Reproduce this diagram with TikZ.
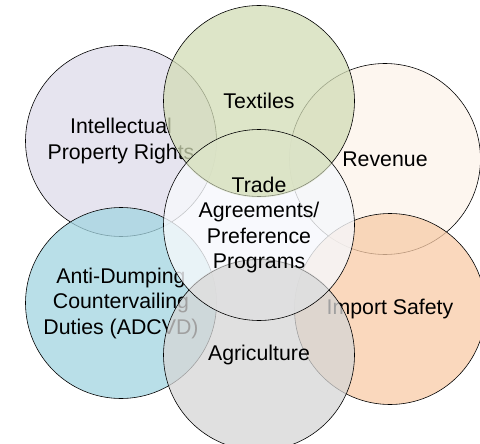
\documentclass[tikz,border=0pt]{standalone}
\usepackage{fontspec}
\setmainfont{Liberation Sans}
\usepackage{xcolor}
\usepackage{tikz}

\definecolor{lavend}{RGB}{222,219,234}
\definecolor{sage}{RGB}{210,220,182}
\definecolor{sagelight}{RGB}{221,229,200}
\definecolor{cream}{RGB}{252,243,234}
\definecolor{skyblue}{RGB}{162,212,224}
\definecolor{apricot}{RGB}{248,203,167}
\definecolor{ash}{RGB}{214,214,214}
\definecolor{ashlight}{RGB}{224,224,224}
\definecolor{mist}{RGB}{246,248,252}

\begin{document}
\begin{tikzpicture}[x=1pt, y=-1pt, every node/.style={circle, draw, line width=0.6pt,
        inner sep=0pt, minimum size=191pt, align=center, fill opacity=0.75,
        text opacity=1, font=\fontsize{21.3}{25.5}\selectfont}]
        \clip (0,0) rectangle (480,444);
        \node[fill=lavend] (A) at (121,141) {Intellectual\\Property Rights};
        \node[fill=cream] (C) at (385,159) {Revenue};
        \node[fill=skyblue] (D) at (121,303) {Anti-Dumping\\Countervailing\\Duties (ADCVD)};
        \node[fill=apricot] (E) at (390,309) {Import Safety};
        \node[fill=mist, draw=none, fill opacity=0.8] (G) at (259,225) {};
        \node[fill=sage] (B) at (259,101) {Textiles};
        \node[fill=ash] (F) at (259,355) {Agriculture};
        % soften the arcs inside the middle circle
        \begin{scope}
            \clip (G.center) circle [radius=95.5pt];
            \fill[sagelight, fill opacity=0.6] (B.center) circle [radius=96.5pt];
            \fill[ashlight, fill opacity=0.6] (F.center) circle [radius=96.5pt];
        \end{scope}
        % outline and text of the middle circle on top
        \node[fill=none] (H) at (G) {Trade\\Agreements/\\Preference\\Programs};
    \end{tikzpicture}
\end{document}
